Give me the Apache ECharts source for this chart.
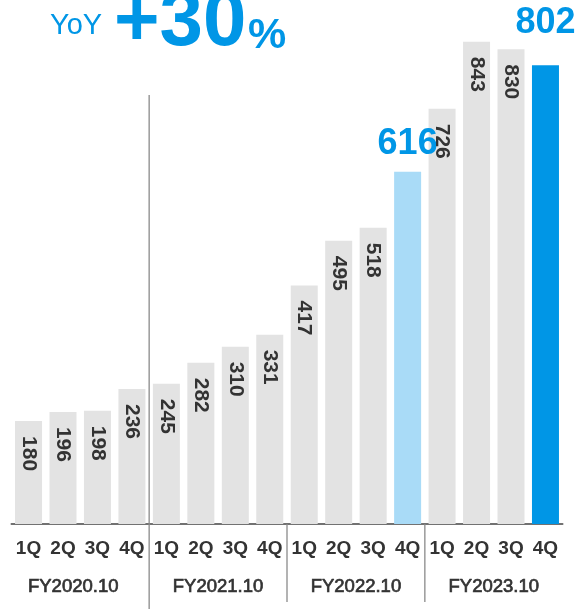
<!DOCTYPE html>
<html>
<head>
<meta charset="utf-8">
<script src="https://cdn.jsdelivr.net/npm/echarts@6/dist/echarts.min.js"></script>
<style>
  html,body{margin:0;padding:0;background:#fff;}
  #chart{width:578px;height:609px;}
</style>
</head>
<body>
<div id="chart"></div>
<script>
// Quarterly values, four fiscal years
var quarters = ['1Q','2Q','3Q','4Q','1Q','2Q','3Q','4Q','1Q','2Q','3Q','4Q','1Q','2Q','3Q','4Q'];
var years = ['FY2020.10','FY2021.10','FY2022.10','FY2023.10'];
var values = [180,196,198,236,245,282,310,331,417,495,518,616,726,843,830,802];
var highlight = [11, 15];            // quarters called out in blue
var yoyText = '+30';

var BLUE = '#0096e6', LIGHT = '#a9dbf7', GREY = '#e3e3e3', INK = '#333333';
var FONT = 'Liberation Sans, Arial, sans-serif';

var chart = echarts.init(document.getElementById('chart'), null, {renderer:'canvas'});

var barData = values.map(function(v, i){
  if(highlight.indexOf(i) < 0) return v;
  var last = i === highlight[highlight.length-1];
  return {
    value: v,
    itemStyle: { color: last ? BLUE : LIGHT },
    label: {
      position: 'top', rotate: 0, align: 'center', verticalAlign: 'bottom',
      distance: last ? 24 : 10,
      fontSize: 36, fontWeight: 'bold', color: BLUE
    }
  };
});

// divider positions fall on the year boundaries
var perYear = quarters.length / years.length;
var dividers = years.slice(1).map(function(_, i){ return [(i+1)*perYear, i]; });

var option = {
  animation: false,
  title: [
    { text:'YoY', left:45, top:6, textStyle:{ fontFamily:FONT, fontSize:29, fontWeight:'normal', color:BLUE } },
    { text:yoyText, left:109, top:-21, textStyle:{ fontFamily:FONT, fontSize:78, fontWeight:'bold', color:BLUE } },
    { text:'%', left:243, top:10, textStyle:{ fontFamily:FONT, fontSize:43, fontWeight:'bold', color:BLUE } }
  ],
  grid: { left:11.3, right:15.3, top:9.2, bottom:85 },
  xAxis: [
    {
      type:'category', data:quarters,
      axisLine:{ lineStyle:{ color:'#444', width:1.6 } },
      axisTick:{ show:false },
      axisLabel:{ interval:0, margin:15, fontFamily:FONT, fontSize:19, fontWeight:'bold', color:INK }
    },
    {
      type:'category', data:[{value:years[0], textStyle:{padding:[0,14,0,0]}}].concat(years.slice(1)),
      position:'bottom',
      axisLine:{ show:false }, axisTick:{ show:false },
      axisLabel:{ interval:0, margin:53, fontFamily:FONT, fontSize:18.5, color:INK,
                  textBorderColor:INK, textBorderWidth:0.7 }
    },
    { type:'value', min:0, max:quarters.length, show:false }
  ],
  yAxis: { type:'value', min:0, max:900, show:false },
  series: [
    {
      type:'bar', xAxisIndex:0, barWidth:27, data:barData,
      itemStyle:{ color:GREY },
      label:{
        show:true, position:'insideTop', distance:15, rotate:-90,
        align:'left', verticalAlign:'middle',
        fontFamily:FONT, fontSize:21, fontWeight:'bold', color:INK
      }
    },
    {
      type:'custom', xAxisIndex:2, yAxisIndex:0, silent:true, z:5,
      data:dividers,
      renderItem:function(params, api){
        var p = api.coord([api.value(0), 0]);
        var first = api.value(1) === 0;
        var y1 = first ? 95 : p[1];
        var y2 = first ? 609 : 602;
        return {
          type:'line',
          shape:{ x1:p[0], y1:y1, x2:p[0], y2:y2 },
          style:{ stroke:'#8a8a8a', lineWidth:1.3 }
        };
      }
    }
  ]
};
chart.setOption(option);
</script>
</body>
</html>
